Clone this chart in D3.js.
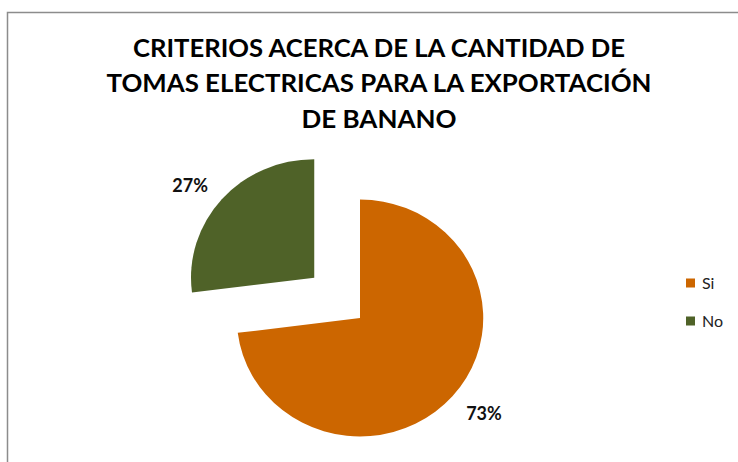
<!DOCTYPE html>
<html>
<head>
<meta charset="utf-8">
<script src="https://cdn.jsdelivr.net/npm/d3@7"></script>
<style>
  html, body { margin: 0; padding: 0; background: #fff; }
  svg { display: block; }
</style>
</head>
<body>
<svg id="chart" width="738" height="462"></svg>
<script>
// Chart data
const titleLines = ["CRITERIOS ACERCA DE LA CANTIDAD DE", "TOMAS ELECTRICAS PARA LA EXPORTACIÓN", "DE BANANO"];
const categories = ["Si", "No"];
const values = [73, 27];
const colors = ["#CC6600", "#4F6228"];
const exploded = [0, 61];

const svg = d3.select("#chart");
const W = 738, H = 462;
const font = "Lato, 'Open Sans', sans-serif";

// chart area frame
svg.append("rect")
  .attr("x", 7.5).attr("y", 12.5)
  .attr("width", W + 10).attr("height", H + 10)
  .attr("fill", "#fff")
  .attr("stroke", "#8c8c8c").attr("stroke-width", 1.5);

// title
const titleWidths = [492, 545, 155];
const title = svg.append("g").attr("font-family", font).attr("font-weight", 700)
  .attr("font-size", 25.5).attr("fill", "#000").attr("text-anchor", "middle");
titleLines.forEach((t, i) => {
  title.append("text")
    .attr("x", 379).attr("y", 56.5 + i * 35.5)
    .attr("textLength", titleWidths[i]).attr("lengthAdjust", "spacingAndGlyphs")
    .text(t);
});

// pie
const cx = 360, cy = 318, r = 118.5, sx = 1.04;
const pie = d3.pie().sort(null).startAngle(0).endAngle(2 * Math.PI);
const arcs = pie(values);
const arc = d3.arc().innerRadius(0).outerRadius(r);
const labelRadius = [153, 151];
const labelTurn = [-0.045, -0.063];

arcs.forEach((a, i) => {
  const mid = (a.startAngle + a.endAngle) / 2;
  const ox = Math.sin(mid) * exploded[i];
  const oy = -Math.cos(mid) * exploded[i];
  const g = svg.append("g").attr("transform", `translate(${cx + ox},${cy + oy})`);
  g.append("path")
    .attr("d", arc(a))
    .attr("transform", `scale(${sx},1)`)
    .attr("fill", colors[i]);
  const la = mid + labelTurn[i];
  const lx = Math.sin(la) * labelRadius[i] * sx;
  const ly = -Math.cos(la) * labelRadius[i];
  g.append("text")
    .attr("x", lx).attr("y", ly)
    .attr("dy", "0.36em")
    .attr("text-anchor", "middle")
    .attr("font-family", font).attr("font-weight", 700).attr("font-size", 18)
    .attr("fill", "#111")
    .text(d3.format(".0%")(a.value / d3.sum(values)));
});

// legend
const legend = svg.append("g").attr("font-family", font).attr("font-size", 16).attr("fill", "#222");
categories.forEach((c, i) => {
  const y = 283 + i * 38;
  legend.append("rect").attr("x", 686).attr("y", y - 4.5).attr("width", 9).attr("height", 9).attr("fill", colors[i]);
  legend.append("text").attr("x", 702).attr("y", y).attr("dy", "0.36em").text(c);
});
</script>
</body>
</html>
